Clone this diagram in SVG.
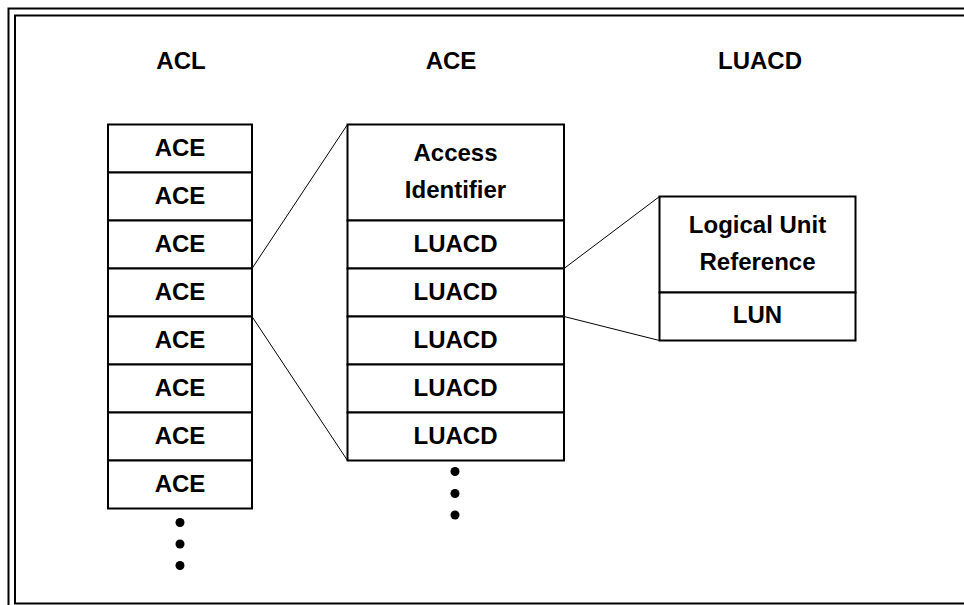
<svg xmlns="http://www.w3.org/2000/svg" width="964" height="605" viewBox="0 0 964 605">
  <style>
    .frame { fill: none; stroke: #000; stroke-width: 2; }
    .cell { fill: #fff; stroke: #000; stroke-width: 2; }
    .link { fill: none; stroke: #000; stroke-width: 1; }
    .t { font-family: "Liberation Sans", Arial, Helvetica, sans-serif; font-weight: bold; font-size: 24px; fill: #000; text-anchor: middle; }
    .dot { fill: #000; }
  </style>

  <!-- double frame, running past the right and bottom edges -->
  <g id="frame">
    <rect class="frame" x="8.5" y="8.5" width="970" height="610"/>
    <rect class="frame" x="15" y="15.5" width="960" height="588"/>
  </g>

  <!-- column headings -->
  <g id="headings">
    <text class="t" x="181" y="69">ACL</text>
    <text class="t" x="451" y="69">ACE</text>
    <text class="t" x="760" y="69">LUACD</text>
  </g>

  <!-- ACL: list of ACEs -->
  <g id="acl">
    <rect class="cell" x="108" y="124.5" width="144" height="48"/>
    <rect class="cell" x="108" y="172.5" width="144" height="48"/>
    <rect class="cell" x="108" y="220.5" width="144" height="48"/>
    <rect class="cell" x="108" y="268.5" width="144" height="48"/>
    <rect class="cell" x="108" y="316.5" width="144" height="48"/>
    <rect class="cell" x="108" y="364.5" width="144" height="48"/>
    <rect class="cell" x="108" y="412.5" width="144" height="48"/>
    <rect class="cell" x="108" y="460.5" width="144" height="48"/>
    <text class="t" x="180" y="155.5">ACE</text>
    <text class="t" x="180" y="203.5">ACE</text>
    <text class="t" x="180" y="251.5">ACE</text>
    <text class="t" x="180" y="299.5">ACE</text>
    <text class="t" x="180" y="347.5">ACE</text>
    <text class="t" x="180" y="395.5">ACE</text>
    <text class="t" x="180" y="443.5">ACE</text>
    <text class="t" x="180" y="491.5">ACE</text>
    <circle class="dot" cx="180" cy="522.5" r="4.5"/>
    <circle class="dot" cx="180" cy="544" r="4.5"/>
    <circle class="dot" cx="180" cy="565.5" r="4.5"/>
  </g>

  <!-- ACE: access identifier followed by LUACDs -->
  <g id="ace">
    <rect class="cell" x="347.5" y="124.5" width="216.5" height="96"/>
    <rect class="cell" x="347.5" y="220.5" width="216.5" height="48"/>
    <rect class="cell" x="347.5" y="268.5" width="216.5" height="48"/>
    <rect class="cell" x="347.5" y="316.5" width="216.5" height="48"/>
    <rect class="cell" x="347.5" y="364.5" width="216.5" height="48"/>
    <rect class="cell" x="347.5" y="412.5" width="216.5" height="48"/>
    <text class="t" x="455.5" y="160.5">Access</text>
    <text class="t" x="455.5" y="198">Identifier</text>
    <text class="t" x="455.5" y="251.5">LUACD</text>
    <text class="t" x="455.5" y="299.5">LUACD</text>
    <text class="t" x="455.5" y="347.5">LUACD</text>
    <text class="t" x="455.5" y="395.5">LUACD</text>
    <text class="t" x="455.5" y="443.5">LUACD</text>
    <circle class="dot" cx="455" cy="471.5" r="4.5"/>
    <circle class="dot" cx="455" cy="493.5" r="4.5"/>
    <circle class="dot" cx="455" cy="515" r="4.5"/>
  </g>

  <!-- LUACD: logical unit reference and LUN -->
  <g id="luacd">
    <rect class="cell" x="659.5" y="196.5" width="196" height="96"/>
    <rect class="cell" x="659.5" y="292.5" width="196" height="48"/>
    <text class="t" x="757.5" y="232.5">Logical Unit</text>
    <text class="t" x="757.5" y="270">Reference</text>
    <text class="t" x="757.5" y="322.5">LUN</text>
  </g>

  <!-- expansion lines between levels -->
  <g id="connectors">
    <line class="link" x1="252" y1="268.5" x2="347.5" y2="124.5"/>
    <line class="link" x1="252" y1="316.5" x2="347.5" y2="460.5"/>
    <line class="link" x1="564" y1="268.5" x2="659.5" y2="196.5"/>
    <line class="link" x1="564" y1="316.5" x2="659.5" y2="340.5"/>
  </g>
</svg>
